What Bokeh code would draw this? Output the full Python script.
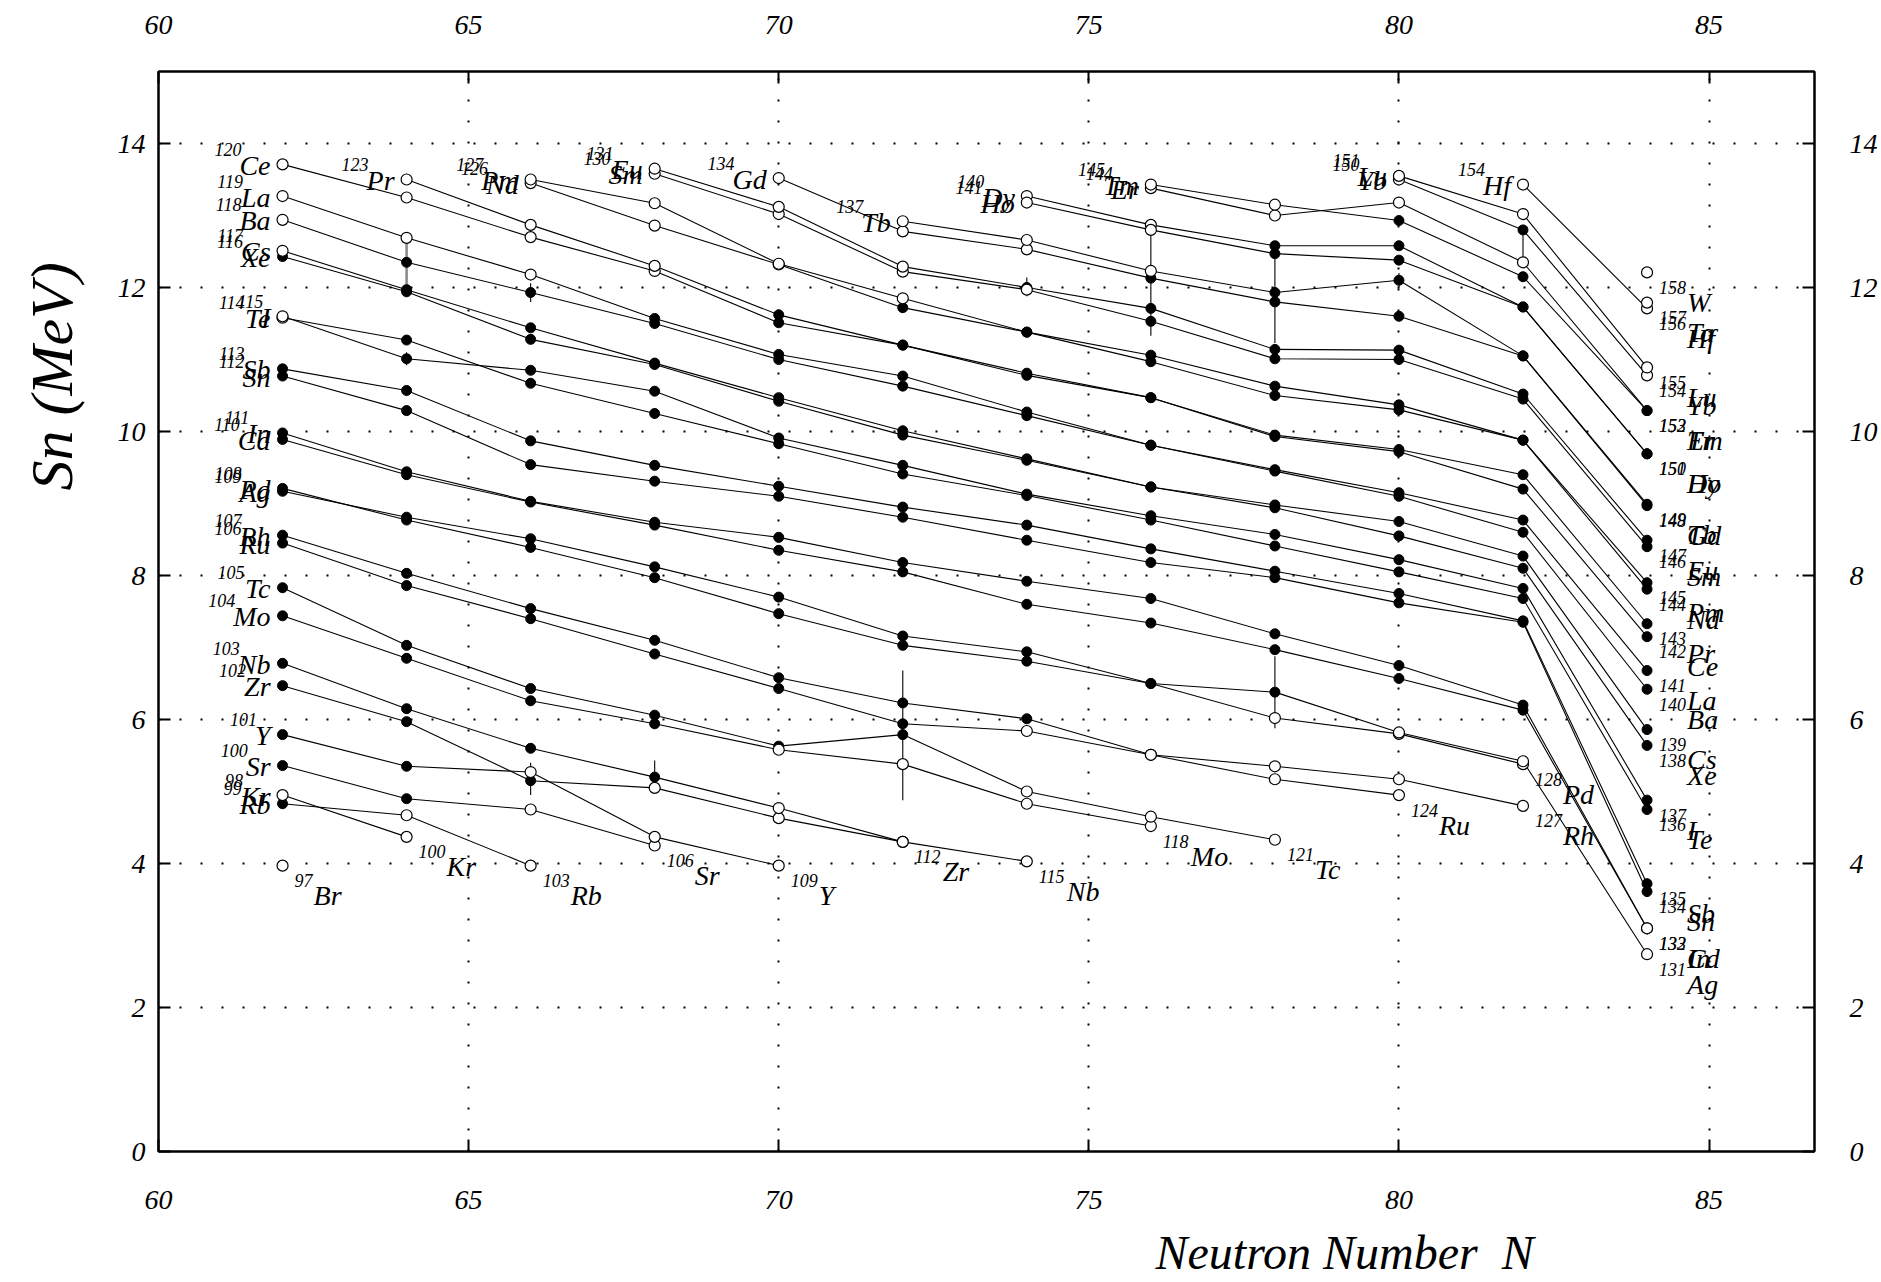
import math
from bokeh.plotting import figure
from bokeh.layouts import row
from bokeh.models import LinearAxis, Range1d, FixedTicker, Title, ColumnDataSource
from bokeh.embed import file_html
from bokeh.resources import INLINE
from bokeh.core.properties import value

# ---------------- data ----------------
elements = ["Br", "Kr", "Rb", "Sr", "Y", "Zr", "Nb", "Mo", "Tc", "Ru", "Rh", "Pd", "Ag", "Cd",
            "In", "Sn", "Sb", "Te", "I", "Xe", "Cs", "Ba", "La", "Ce", "Pr", "Nd", "Pm", "Sm",
            "Eu", "Gd", "Tb", "Dy", "Ho", "Er", "Tm", "Yb", "Lu", "Hf", "Ta", "W"]
z_numbers = list(range(35, 75))
first_N = [62, 62, 62, 62, 62, 62, 62, 62, 62, 62, 62, 62, 62, 62,
           62, 62, 62, 62, 62, 62, 62, 62, 62, 62, 64, 66, 66, 68,
           68, 70, 72, 74, 74, 76, 76, 80, 80, 82, 84, 84]

sn_Br = [3.97]
sn_Kr = [4.95, 4.37]
sn_Rb = [4.83, 4.67, 3.97]
sn_Sr = [5.36, 4.90, 4.75, 4.25]
sn_Y = [5.79, 5.35, 5.27, 4.37, 3.97]
sn_Zr = [6.47, 5.97, 5.15, 5.05, 4.63, 4.30]
sn_Nb = [6.78, 6.15, 5.60, 5.20, 4.77, 4.30, 4.03]
sn_Mo = [7.44, 6.85, 6.26, 5.94, 5.58, 5.38, 4.83, 4.52]
sn_Tc = [7.83, 7.03, 6.43, 6.06, 5.63, 5.79, 5.00, 4.65, 4.33]
sn_Ru = [8.45, 7.86, 7.40, 6.91, 6.43, 5.94, 5.84, 5.51, 5.17, 4.95]
sn_Rh = [8.56, 8.03, 7.54, 7.10, 6.58, 6.23, 6.01, 5.51, 5.35, 5.17, 4.80]
sn_Pd = [9.21, 8.77, 8.39, 7.97, 7.47, 7.03, 6.81, 6.50, 6.02, 5.80, 5.38]
sn_Ag = [9.17, 8.81, 8.51, 8.12, 7.70, 7.16, 6.94, 6.50, 6.38, 5.82, 5.42, 2.74]
sn_Cd = [9.89, 9.40, 9.02, 8.70, 8.35, 8.05, 7.60, 7.34, 6.97, 6.57, 6.13, 3.10]
sn_In = [9.98, 9.44, 9.03, 8.74, 8.53, 8.18, 7.92, 7.68, 7.19, 6.75, 6.20, 3.10]
sn_Sn = [10.77, 10.29, 9.54, 9.31, 9.10, 8.81, 8.49, 8.18, 7.97, 7.62, 7.35, 3.61]
sn_Sb = [10.87, 10.57, 9.87, 9.53, 9.24, 8.95, 8.70, 8.37, 8.06, 7.75, 7.37, 3.72]
sn_Te = [11.58, 11.27, 10.67, 10.25, 9.83, 9.41, 9.11, 8.77, 8.41, 8.05, 7.68, 4.75]
sn_I = [11.60, 11.01, 10.85, 10.56, 9.91, 9.53, 9.13, 8.83, 8.57, 8.22, 7.82, 4.88]
sn_Xe = [12.43, 11.94, 11.28, 10.93, 10.42, 9.95, 9.60, 9.23, 8.94, 8.55, 8.10, 5.64]
sn_Cs = [12.51, 11.97, 11.44, 10.95, 10.47, 10.01, 9.62, 9.23, 8.98, 8.75, 8.27, 5.86]
sn_Ba = [12.94, 12.35, 11.93, 11.50, 11.00, 10.63, 10.22, 9.81, 9.45, 9.10, 8.60, 6.42]
sn_La = [13.27, 12.69, 12.18, 11.57, 11.07, 10.77, 10.27, 9.81, 9.47, 9.15, 8.77, 6.68]
sn_Ce = [13.71, 13.25, 12.70, 12.23, 11.51, 11.20, 10.78, 10.47, 9.93, 9.72, 9.20, 7.15]
sn_Pr = [13.50, 12.87, 12.30, 11.62, 11.20, 10.81, 10.47, 9.95, 9.75, 9.40, 7.33]
sn_Nd = [13.45, 12.86, 12.32, 11.72, 11.38, 10.97, 10.50, 10.30, 9.88, 7.81]
sn_Pm = [13.50, 13.17, 12.33, 11.85, 11.38, 11.06, 10.63, 10.37, 9.88, 7.90]
sn_Sm = [13.58, 13.02, 12.22, 11.97, 11.53, 11.01, 11.00, 10.45, 8.40]
sn_Eu = [13.65, 13.12, 12.29, 12.00, 11.71, 11.14, 11.13, 10.52, 8.49]
sn_Gd = [13.52, 12.78, 12.53, 12.13, 11.80, 11.60, 11.05, 8.97]
sn_Tb = [12.92, 12.66, 12.23, 11.93, 12.10, 11.05, 8.99]
sn_Dy = [13.27, 12.87, 12.58, 12.58, 11.73, 9.69]
sn_Ho = [13.18, 12.80, 12.47, 12.38, 11.73, 9.69]
sn_Er = [13.38, 13.00, 13.18, 12.35, 10.29]
sn_Tm = [13.43, 13.15, 12.93, 12.15, 10.29]
sn_Yb = [13.50, 12.80, 10.78]
sn_Lu = [13.55, 13.02, 10.89]
sn_Hf = [13.43, 11.71]
sn_Ta = [11.79]
sn_W = [12.21]

# "o" = open circle (estimated), "f" = filled circle (measured)
kind_Br = "o"
kind_Kr = "oo"
kind_Rb = "foo"
kind_Sr = "ffoo"
kind_Y = "ffooo"
kind_Zr = "fffooo"
kind_Nb = "ffffooo"
kind_Mo = "ffffoooo"
kind_Tc = "ffffffooo"
kind_Ru = "ffffffoooo"
kind_Rh = "fffffffoooo"
kind_Pd = "ffffffffooo"
kind_Ag = "fffffffffooo"
kind_Cd = "fffffffffffo"
kind_In = "fffffffffffo"
kind_Sn = "ffffffffffff"
kind_Sb = "ffffffffffff"
kind_Te = "offfffffffff"
kind_I = "offfffffffff"
kind_Xe = "ffffffffffff"
kind_Cs = "offfffffffff"
kind_Ba = "offfffffffff"
kind_La = "ooofffffffff"
kind_Ce = "ooooffffffff"
kind_Pr = "ooofffffffff"
kind_Nd = "ooofffffff"
kind_Pm = "oooofffffff"
kind_Sm = "oooofffff"
kind_Eu = "ooofffffff"
kind_Gd = "ooofffff"
kind_Tb = "oooffff"
kind_Dy = "ooffff"
kind_Ho = "ooffff"
kind_Er = "oooof"
kind_Tm = "oofff"
kind_Yb = "ofo"
kind_Lu = "ooo"
kind_Hf = "oo"
kind_Ta = "o"
kind_W = "o"

# error bars (N, low, high)
err_N = [66, 66, 68, 72, 74, 76, 78, 78, 80, 82, 64]
err_lo = [11.80, 4.95, 4.97, 4.88, 11.88, 11.33, 11.23, 5.88, 12.00, 12.35, 10.92]
err_hi = [12.06, 5.40, 5.43, 6.68, 12.14, 12.79, 12.47, 6.88, 12.20, 12.80, 11.10]
gray_err_N = [64]
gray_err_lo = [11.94]
gray_err_hi = [12.69]

x_ticks = [60, 65, 70, 75, 80, 85]
y_ticks = [0, 2, 4, 6, 8, 10, 12, 14]

sn_all = [sn_Br, sn_Kr, sn_Rb, sn_Sr, sn_Y, sn_Zr, sn_Nb, sn_Mo, sn_Tc, sn_Ru, sn_Rh, sn_Pd,
          sn_Ag, sn_Cd, sn_In, sn_Sn, sn_Sb, sn_Te, sn_I, sn_Xe, sn_Cs, sn_Ba, sn_La, sn_Ce,
          sn_Pr, sn_Nd, sn_Pm, sn_Sm, sn_Eu, sn_Gd, sn_Tb, sn_Dy, sn_Ho, sn_Er, sn_Tm, sn_Yb,
          sn_Lu, sn_Hf, sn_Ta, sn_W]
kind_all = [kind_Br, kind_Kr, kind_Rb, kind_Sr, kind_Y, kind_Zr, kind_Nb, kind_Mo, kind_Tc,
            kind_Ru, kind_Rh, kind_Pd, kind_Ag, kind_Cd, kind_In, kind_Sn, kind_Sb, kind_Te,
            kind_I, kind_Xe, kind_Cs, kind_Ba, kind_La, kind_Ce, kind_Pr, kind_Nd, kind_Pm,
            kind_Sm, kind_Eu, kind_Gd, kind_Tb, kind_Dy, kind_Ho, kind_Er, kind_Tm, kind_Yb,
            kind_Lu, kind_Hf, kind_Ta, kind_W]
no_start_label = {"Br", "Ta", "W"}

# ---------------- figure ----------------
FONT = "Liberation Serif"
STRIP = 104          # width of the strip holding the y-axis title
p = figure(frame_width=1656, frame_height=1080, min_border_left=158 - STRIP, min_border_right=67,
           min_border_top=71, min_border_bottom=131,
           x_range=Range1d(60, 86.7), y_range=Range1d(0, 15),
           output_backend="svg", toolbar_location=None, background_fill_color="white")
p.outline_line_color = "black"
p.outline_line_width = 2

def style_axis(ax, ticks, standoff):
    ax.ticker = FixedTicker(ticks=ticks)
    ax.major_label_text_font = FONT
    ax.major_label_text_font_style = "italic"
    ax.major_label_text_font_size = "28px"
    ax.major_label_text_color = "black"
    ax.major_label_standoff = standoff
    ax.axis_line_color = "black"
    ax.axis_line_width = 2
    ax.major_tick_in = 12
    ax.major_tick_out = 0
    ax.major_tick_line_width = 2
    ax.minor_tick_line_color = None

style_axis(p.xaxis[0], x_ticks, 39)
style_axis(p.yaxis[0], y_ticks, 13)
top_ax = LinearAxis()
right_ax = LinearAxis()
style_axis(top_ax, x_ticks, 38)
style_axis(right_ax, y_ticks, 35)
p.add_layout(top_ax, "above")
p.add_layout(right_ax, "right")

for g, ticks in ((p.xgrid[0], [65, 70, 75, 80, 85]), (p.ygrid[0], [2, 4, 6, 8, 10, 12, 14])):
    g.ticker = FixedTicker(ticks=ticks)
    g.grid_line_color = "black"
    g.grid_line_width = 2
    g.grid_line_dash = "2 19"

# chains
xs, ys = [], []
fx, fy, ox, oy = [], [], [], []
for n0, vals, kinds in zip(first_N, sn_all, kind_all):
    ns = [n0 + 2 * i for i in range(len(vals))]
    xs.append(ns)
    ys.append(vals)
    for n, v, k in zip(ns, vals, kinds):
        if k == "o":
            ox.append(n); oy.append(v)
        else:
            fx.append(n); fy.append(v)

p.segment(x0=gray_err_N, y0=gray_err_lo, x1=gray_err_N, y1=gray_err_hi, line_color="#888888", line_width=2.5)
p.segment(x0=err_N, y0=err_lo, x1=err_N, y1=err_hi, line_color="black", line_width=1.1)
p.multi_line(xs=xs, ys=ys, line_color="black", line_width=1.1)
p.scatter(fx, fy, marker="circle", size=10, fill_color="black", line_color="black", line_width=1)
p.scatter(ox, oy, marker="circle", size=11, fill_color="white", line_color="black", line_width=1.2)

# labels (mass number as superscript + element symbol)
tw = {'A': 611, 'B': 611, 'C': 667, 'D': 722, 'E': 611, 'G': 722, 'H': 722, 'I': 333, 'K': 667,
      'L': 556, 'M': 833, 'N': 667, 'P': 611, 'R': 611, 'S': 500, 'T': 556, 'W': 833, 'X': 611,
      'Y': 556, 'Z': 556, 'a': 500, 'b': 500, 'c': 444, 'd': 500, 'e': 444, 'f': 278, 'g': 500,
      'h': 500, 'i': 278, 'l': 278, 'm': 722, 'n': 500, 'o': 500, 'r': 389, 's': 389, 'u': 500,
      'y': 444}

def width(t, size):
    return sum(tw.get(c, 500) for c in t) / 1000.0 * size

EL_SIZE, SUP_SIZE = 28, 18
L = dict(x=[], y=[], t=[], xo=[], yo=[])
Ls = dict(x=[], y=[], t=[], xo=[], yo=[])
R = dict(x=[], y=[], t=[], xo=[], yo=[])
Rs = dict(x=[], y=[], t=[], xo=[], yo=[])
for el, z, n0, vals in zip(elements, z_numbers, first_N, sn_all):
    if el not in no_start_label:
        a = str(z + n0)
        L["x"].append(n0); L["y"].append(vals[0]); L["t"].append(el)
        L["xo"].append(-12); L["yo"].append(1)
        Ls["x"].append(n0); Ls["y"].append(vals[0]); Ls["t"].append(a)
        Ls["xo"].append(-12 - width(el, EL_SIZE) + 2); Ls["yo"].append(-15)
    n1 = n0 + 2 * (len(vals) - 1)
    a = str(z + n1)
    Rs["x"].append(n1); Rs["y"].append(vals[-1]); Rs["t"].append(a)
    Rs["xo"].append(12); Rs["yo"].append(15)
    R["x"].append(n1); R["y"].append(vals[-1]); R["t"].append(el)
    R["xo"].append(12 + width(a, SUP_SIZE) + 1); R["yo"].append(30)

for d, size, align in ((L, EL_SIZE, "right"), (Ls, SUP_SIZE, "right"),
                       (R, EL_SIZE, "left"), (Rs, SUP_SIZE, "left")):
    p.text(x="x", y="y", text="t", x_offset="xo", y_offset="yo", source=ColumnDataSource(d),
           text_font=value(FONT), text_font_style="italic", text_font_size=f"{size}px",
           text_align=align, text_baseline="alphabetic", text_color="black")

# x-axis title (below the axis, left-aligned with an offset like the original)
p.add_layout(Title(text="Neutron Number\u00a0\u00a0N", align="left", offset=997,
                   vertical_align="top", standoff=28, text_font=FONT,
                   text_font_style="italic", text_font_size="48px", text_color="black"), "below")

# y-axis title in a narrow strip left of the plot
ft = figure(width=STRIP, height=1282, x_range=Range1d(0, STRIP), y_range=Range1d(0, 1282),
            output_backend="svg", toolbar_location=None, min_border=0,
            x_axis_location=None, y_axis_location=None, background_fill_color="white")
ft.outline_line_color = None
for g in ft.grid:
    g.visible = False
ft.text(x=[51], y=[1282 - 366], text=["Sn (MeV)"], angle=math.pi / 2, text_align="center",
        text_baseline="middle", text_font=value(FONT), text_font_style="italic",
        text_font_size="60px", text_color="black")

layout = row(ft, p)
open("out.html", "w").write(file_html(layout, INLINE))
